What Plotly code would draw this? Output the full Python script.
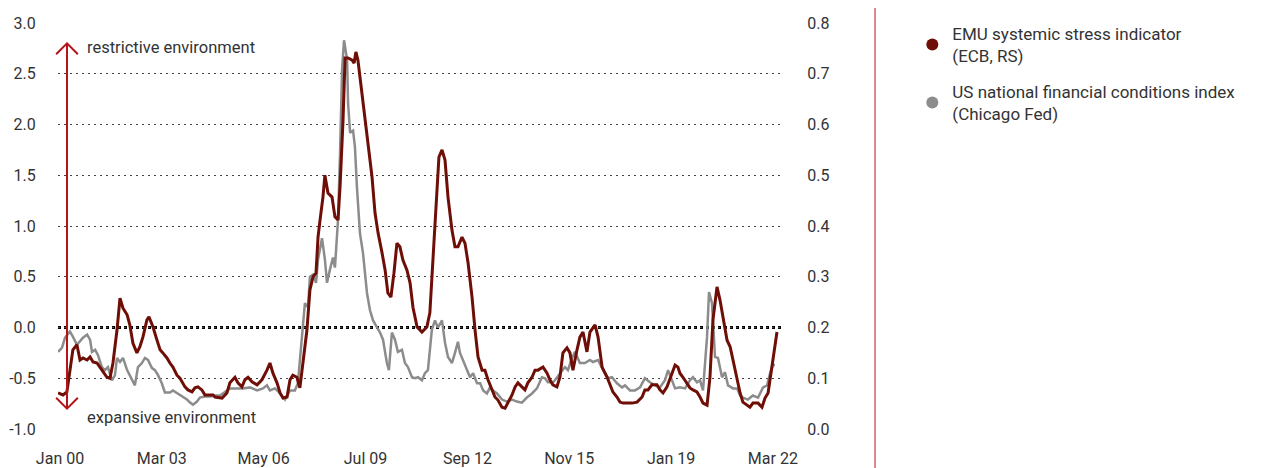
import plotly.graph_objects as go

# ---------------- data ----------------
# US national financial conditions index (Chicago Fed) - left scale
us_dates = [
    "1999-12-09", "2000-01-23", "2000-02-27", "2000-04-23", "2000-05-26", "2000-07-11", "2000-09-18",
    "2000-11-03", "2000-12-07", "2000-12-29", "2001-02-03", "2001-03-06", "2001-04-21", "2001-05-25",
    "2001-06-28", "2001-08-13", "2001-09-16", "2001-10-09", "2001-11-12", "2001-12-16", "2002-02-01",
    "2002-03-04", "2002-04-08", "2002-04-30", "2002-06-04", "2002-07-19", "2002-08-22", "2002-09-26",
    "2002-11-10", "2002-12-14", "2003-01-18", "2003-03-02", "2003-04-06", "2003-06-02", "2003-07-06",
    "2003-09-01", "2003-10-17", "2003-12-13", "2004-01-16", "2004-02-19", "2004-04-04", "2004-05-08",
    "2004-07-04", "2004-08-30", "2004-10-26", "2004-12-22", "2005-04-13", "2005-07-02", "2005-09-09",
    "2005-11-27", "2006-02-16", "2006-04-23", "2006-06-08", "2006-07-12", "2006-09-07", "2006-11-04",
    "2006-12-30", "2007-02-25", "2007-04-21", "2007-05-25", "2007-07-10", "2007-08-13", "2007-09-17",
    "2007-10-09", "2007-11-13", "2007-12-17", "2008-01-09", "2008-02-23", "2008-03-27", "2008-04-20",
    "2008-05-23", "2008-06-27", "2008-07-19", "2008-08-23", "2008-09-15", "2008-10-08", "2008-10-30",
    "2008-12-04", "2008-12-15", "2009-01-07", "2009-02-10", "2009-03-03", "2009-03-26", "2009-04-29",
    "2009-06-03", "2009-07-18", "2009-08-21", "2009-09-25", "2009-11-09", "2009-12-13", "2010-01-16",
    "2010-03-01", "2010-03-24", "2010-04-27", "2010-06-01", "2010-07-04", "2010-08-19", "2010-09-22",
    "2010-10-26", "2010-12-11", "2011-01-14", "2011-02-18", "2011-04-03", "2011-05-07", "2011-06-10",
    "2011-07-25", "2011-08-29", "2011-10-02", "2011-11-17", "2011-12-21", "2012-01-24", "2012-03-09",
    "2012-04-12", "2012-05-16", "2012-06-08", "2012-07-12", "2012-08-27", "2012-09-30", "2012-11-04",
    "2012-12-19", "2013-01-23", "2013-02-26", "2013-04-10", "2013-05-14", "2013-06-18", "2013-08-02",
    "2013-09-28", "2013-11-24", "2014-01-20", "2014-03-16", "2014-05-12", "2014-07-08", "2014-09-04",
    "2014-10-30", "2014-12-26", "2015-01-30", "2015-03-03", "2015-04-29", "2015-05-22", "2015-07-18",
    "2015-09-13", "2015-10-17", "2015-12-02", "2016-01-05", "2016-03-01", "2016-04-27", "2016-06-23",
    "2016-07-27", "2016-09-23", "2016-11-19", "2017-01-15", "2017-02-28", "2017-04-26", "2017-06-22",
    "2017-07-26", "2017-09-21", "2017-11-17", "2018-01-13", "2018-03-09", "2018-05-05", "2018-07-01",
    "2018-08-27", "2018-10-23", "2018-11-27", "2019-01-12", "2019-02-15", "2019-04-11", "2019-06-07",
    "2019-08-03", "2019-09-06", "2019-10-21", "2019-11-25", "2019-12-29", "2020-02-13", "2020-03-06",
    "2020-04-09", "2020-05-13", "2020-06-16", "2020-08-01", "2020-09-04", "2020-10-08", "2020-12-04",
    "2021-01-19", "2021-02-22", "2021-03-26", "2021-05-22", "2021-07-18", "2021-09-14", "2021-11-10",
    "2021-12-25", "2022-01-29", "2022-03-02", "2022-03-25",
]
us_values = [
    -0.24, -0.20, -0.10, -0.04, -0.09, -0.17, -0.10,
    -0.07, -0.12, -0.24, -0.22, -0.27, -0.39, -0.42,
    -0.39, -0.52, -0.47, -0.30, -0.34, -0.30, -0.42,
    -0.47, -0.52, -0.57, -0.39, -0.35, -0.30, -0.32,
    -0.40, -0.42, -0.47, -0.55, -0.64, -0.64, -0.62,
    -0.65, -0.68, -0.71, -0.74, -0.76, -0.73, -0.69,
    -0.68, -0.68, -0.67, -0.67, -0.60, -0.60, -0.60,
    -0.59, -0.62, -0.60, -0.57, -0.62, -0.60, -0.65,
    -0.71, -0.62, -0.62, -0.55, -0.09, 0.24, 0.20,
    0.50, 0.52, 0.44, 0.67, 0.88, 0.67, 0.44,
    0.57, 0.69, 0.59, 1.06, 1.72, 2.54, 2.83,
    2.64, 2.21, 1.92, 1.94, 1.78, 1.38, 0.93,
    0.73, 0.34, 0.17, 0.07, 0.00, -0.05, -0.12,
    -0.35, -0.42, -0.05, -0.12, -0.24, -0.22, -0.35,
    -0.39, -0.49, -0.50, -0.49, -0.52, -0.45, -0.42,
    -0.02, 0.07, 0.00, 0.07, -0.15, -0.29, -0.35,
    -0.25, -0.14, -0.25, -0.32, -0.42, -0.49, -0.45,
    -0.55, -0.55, -0.62, -0.65, -0.59, -0.62, -0.65,
    -0.71, -0.73, -0.71, -0.73, -0.74, -0.69, -0.65,
    -0.60, -0.49, -0.50, -0.54, -0.54, -0.52, -0.45,
    -0.39, -0.42, -0.30, -0.24, -0.35, -0.35, -0.32,
    -0.34, -0.32, -0.42, -0.50, -0.49, -0.55, -0.59,
    -0.57, -0.62, -0.62, -0.59, -0.50, -0.54, -0.57,
    -0.59, -0.52, -0.42, -0.52, -0.60, -0.59, -0.60,
    -0.52, -0.49, -0.54, -0.52, -0.62, -0.09, 0.35,
    0.24, -0.29, -0.30, -0.49, -0.44, -0.57, -0.60,
    -0.60, -0.67, -0.69, -0.71, -0.67, -0.69, -0.59,
    -0.57, -0.45, -0.37, -0.37,
]

# EMU systemic stress indicator (ECB) - right scale
emu_dates = [
    "1999-12-09", "2000-02-04", "2000-03-19", "2000-04-23", "2000-05-26", "2000-07-11", "2000-08-15",
    "2000-09-18", "2000-11-03", "2000-12-07", "2001-01-10", "2001-02-25", "2001-03-29", "2001-05-02",
    "2001-06-17", "2001-07-21", "2001-08-24", "2001-10-09", "2001-11-12", "2001-12-16", "2002-02-01",
    "2002-03-04", "2002-04-08", "2002-05-23", "2002-06-26", "2002-07-30", "2002-09-14", "2002-10-07",
    "2002-11-22", "2003-01-06", "2003-02-10", "2003-03-14", "2003-04-29", "2003-06-02", "2003-07-06",
    "2003-08-21", "2003-09-24", "2003-11-20", "2003-12-24", "2004-02-08", "2004-03-12", "2004-04-15",
    "2004-05-30", "2004-07-04", "2004-08-07", "2004-10-03", "2004-10-26", "2005-01-14", "2005-03-10",
    "2005-04-13", "2005-06-10", "2005-07-13", "2005-08-28", "2005-10-01", "2005-11-05", "2005-12-20",
    "2006-02-16", "2006-04-12", "2006-06-08", "2006-07-12", "2006-08-15", "2006-09-30", "2006-11-04",
    "2006-12-07", "2007-01-22", "2007-02-25", "2007-03-29", "2007-05-14", "2007-06-17", "2007-07-21",
    "2007-09-05", "2007-10-09", "2007-11-13", "2007-12-17", "2008-01-09", "2008-02-01", "2008-03-05",
    "2008-03-27", "2008-05-01", "2008-06-16", "2008-07-19", "2008-08-23", "2008-09-15", "2008-10-19",
    "2008-11-11", "2008-12-15", "2009-01-30", "2009-02-22", "2009-03-14", "2009-04-06", "2009-05-22",
    "2009-06-25", "2009-07-29", "2009-09-13", "2009-10-17", "2009-11-21", "2010-01-05", "2010-02-09",
    "2010-03-12", "2010-04-16", "2010-05-20", "2010-06-23", "2010-07-27", "2010-08-30", "2010-10-15",
    "2010-11-19", "2010-12-22", "2011-02-07", "2011-04-03", "2011-05-29", "2011-07-02", "2011-08-06",
    "2011-09-21", "2011-10-13", "2011-11-17", "2011-12-21", "2012-01-24", "2012-03-09", "2012-04-12",
    "2012-05-16", "2012-07-01", "2012-08-04", "2012-09-08", "2012-10-23", "2012-11-26", "2012-12-30",
    "2013-02-14", "2013-03-18", "2013-04-22", "2013-06-06", "2013-07-10", "2013-08-13", "2013-09-28",
    "2013-11-02", "2013-12-05", "2014-01-20", "2014-02-24", "2014-03-28", "2014-05-12", "2014-06-16",
    "2014-07-19", "2014-09-04", "2014-10-08", "2014-11-11", "2015-01-07", "2015-02-22", "2015-03-26",
    "2015-04-29", "2015-06-14", "2015-07-18", "2015-08-21", "2015-10-06", "2015-11-09", "2015-12-13",
    "2016-01-28", "2016-03-01", "2016-04-05", "2016-05-20", "2016-06-23", "2016-08-20", "2016-09-23",
    "2016-11-08", "2017-01-04", "2017-02-07", "2017-03-11", "2017-04-26", "2017-05-30", "2017-07-03",
    "2017-08-18", "2017-10-14", "2017-12-10", "2018-02-05", "2018-03-09", "2018-04-13", "2018-05-28",
    "2018-07-24", "2018-08-27", "2018-10-01", "2018-11-15", "2019-01-12", "2019-02-15", "2019-03-19",
    "2019-04-11", "2019-05-15", "2019-06-30", "2019-08-03", "2019-09-06", "2019-10-21", "2019-11-25",
    "2019-12-29", "2020-02-13", "2020-03-17", "2020-04-20", "2020-06-05", "2020-07-09", "2020-08-12",
    "2020-09-27", "2020-11-01", "2020-12-04", "2021-01-19", "2021-02-22", "2021-03-26", "2021-05-11",
    "2021-06-14", "2021-07-18", "2021-09-14", "2021-10-29", "2021-12-02", "2022-01-06", "2022-02-21",
    "2022-03-25", "2022-04-17",
]
emu_values = [
    0.071, 0.067, 0.073, 0.112, 0.156, 0.166, 0.136,
    0.140, 0.136, 0.142, 0.132, 0.130, 0.122, 0.112,
    0.102, 0.100, 0.130, 0.195, 0.258, 0.238, 0.225,
    0.205, 0.169, 0.150, 0.162, 0.181, 0.215, 0.221,
    0.201, 0.175, 0.156, 0.150, 0.140, 0.130, 0.122,
    0.106, 0.100, 0.083, 0.077, 0.073, 0.081, 0.083,
    0.077, 0.067, 0.067, 0.067, 0.063, 0.061, 0.071,
    0.091, 0.102, 0.091, 0.083, 0.097, 0.102, 0.093,
    0.087, 0.097, 0.116, 0.130, 0.110, 0.091, 0.071,
    0.061, 0.063, 0.097, 0.106, 0.102, 0.081, 0.130,
    0.195, 0.274, 0.300, 0.307, 0.378, 0.412, 0.457,
    0.500, 0.465, 0.457, 0.418, 0.412, 0.477, 0.609,
    0.731, 0.731, 0.727, 0.721, 0.743, 0.727, 0.662,
    0.609, 0.556, 0.497, 0.426, 0.386, 0.347, 0.313,
    0.268, 0.260, 0.307, 0.366, 0.359, 0.333, 0.313,
    0.288, 0.240, 0.201, 0.191, 0.201, 0.229, 0.327,
    0.457, 0.536, 0.550, 0.530, 0.457, 0.392, 0.359,
    0.359, 0.378, 0.366, 0.327, 0.260, 0.195, 0.142,
    0.116, 0.116, 0.097, 0.077, 0.063, 0.057, 0.043,
    0.041, 0.051, 0.067, 0.083, 0.091, 0.083, 0.077,
    0.091, 0.102, 0.116, 0.116, 0.122, 0.110, 0.097,
    0.087, 0.083, 0.102, 0.150, 0.160, 0.150, 0.116,
    0.156, 0.181, 0.191, 0.152, 0.191, 0.205, 0.181,
    0.122, 0.102, 0.087, 0.073, 0.063, 0.053, 0.051,
    0.051, 0.051, 0.053, 0.063, 0.077, 0.077, 0.087,
    0.087, 0.077, 0.071, 0.083, 0.110, 0.126, 0.122,
    0.110, 0.102, 0.091, 0.081, 0.077, 0.073, 0.063,
    0.051, 0.047, 0.102, 0.215, 0.280, 0.254, 0.221,
    0.175, 0.162, 0.136, 0.102, 0.071, 0.053, 0.047,
    0.043, 0.051, 0.051, 0.043, 0.061, 0.071, 0.122,
    0.162, 0.191,
]

x_tick_dates = ["2000-01-01", "2003-03-01", "2006-05-01", "2009-07-01",
                "2012-09-01", "2015-11-01", "2019-01-01", "2022-03-01"]
x_tick_labels = ["Jan 00", "Mar 03", "May 06", "Jul 09", "Sep 12", "Nov 15", "Jan 19", "Mar 22"]
left_ticks = [-1.0, -0.5, 0.0, 0.5, 1.0, 1.5, 2.0, 2.5, 3.0]
left_labels = ["-1.0", "-0.5", "0.0", "0.5", "1.0", "1.5", "2.0", "2.5", "3.0"]
right_ticks = [0.0, 0.1, 0.2, 0.3, 0.4, 0.5, 0.6, 0.7, 0.8]
right_labels = ["0.0", "0.1", "0.2", "0.3", "0.4", "0.5", "0.6", "0.7", "0.8"]

emu_name = "EMU systemic stress indicator<br>(ECB, RS)"
us_name = "US national financial conditions index<br>(Chicago Fed)"

# ---------------- styling ----------------
RED = "#6e0e06"
GRAY = "#8c8c8c"
ARROW = "#b5141b"
TEXT = "#333333"
FONT = "Roboto"

fig = go.Figure()
fig.add_trace(go.Scatter(x=us_dates, y=us_values, mode="lines", yaxis="y",
                         line=dict(color=GRAY, width=2.5), showlegend=False))
fig.add_trace(go.Scatter(x=emu_dates, y=emu_values, mode="lines", yaxis="y2",
                         line=dict(color=RED, width=3), showlegend=False))
# legend entries (circle markers)
fig.add_trace(go.Scatter(x=[None], y=[None], mode="markers", name=emu_name, legendgroup="emu",
                         marker=dict(color=RED, size=16, symbol="circle")))
fig.add_trace(go.Scatter(x=[None], y=[None], mode="markers", name=us_name, legendgroup="us",
                         marker=dict(color=GRAY, size=16, symbol="circle")))

ax_x = 0.01243
shapes = [
    # bold dotted zero line
    dict(type="line", xref="paper", yref="y", x0=0, x1=1, y0=0, y1=0,
         line=dict(color="#000000", width=3, dash="3px,3px"), layer="below"),
    # double arrow
    dict(type="line", xref="paper", yref="y", x0=ax_x, x1=ax_x, y0=2.80, y1=-0.80,
         line=dict(color=ARROW, width=2)),
    dict(type="path", xref="paper", yref="y",
         path=f"M {ax_x-0.0150},2.692 L {ax_x},2.80 L {ax_x+0.0150},2.692",
         line=dict(color=ARROW, width=2)),
    dict(type="path", xref="paper", yref="y",
         path=f"M {ax_x-0.0150},-0.692 L {ax_x},-0.80 L {ax_x+0.0150},-0.692",
         line=dict(color=ARROW, width=2)),
    # separator line between chart and legend
    dict(type="line", xref="paper", yref="paper", x0=1.1285, x1=1.1285, y0=-0.12, y1=1.08,
         line=dict(color="#c8102e", width=1)),
]

annotations = [
    dict(text="restrictive environment", xref="paper", yref="y", x=0.0373, y=2.76,
         xanchor="left", yanchor="middle", showarrow=False,
         font=dict(size=16.5, color=TEXT, family=FONT)),
    dict(text="expansive environment", xref="paper", yref="y", x=0.0373, y=-0.89,
         xanchor="left", yanchor="middle", showarrow=False,
         font=dict(size=16.5, color=TEXT, family=FONT)),
]

# the page body adds an 8px offset, so the figure is 8px smaller and shifted
fig.update_layout(
    width=1260, height=460,
    margin=dict(l=50, r=486, t=15, b=39, autoexpand=False),
    paper_bgcolor="white", plot_bgcolor="white",
    font=dict(family=FONT, size=16, color=TEXT),
    shapes=shapes, annotations=annotations,
    xaxis=dict(type="date", range=["1999-12-09", "2022-06-13"],
               tickvals=x_tick_dates, ticktext=x_tick_labels,
               showgrid=False, zeroline=False, showline=False, automargin=False,
               ticks="outside", ticklen=15, tickcolor="rgba(0,0,0,0)",
               tickfont=dict(size=16, color=TEXT)),
    yaxis=dict(range=[-1, 3], tickvals=left_ticks, ticktext=left_labels,
               showgrid=True, gridcolor="#444444", gridwidth=1, griddash="1.5px,4.5px",
               zeroline=False, showline=False, automargin=False,
               ticks="outside", ticklen=18, tickcolor="rgba(0,0,0,0)",
               tickfont=dict(size=16, color=TEXT)),
    yaxis2=dict(range=[0, 0.8], tickvals=right_ticks, ticktext=right_labels,
                overlaying="y", side="right", showgrid=False, zeroline=False, showline=False,
                automargin=False,
                ticks="outside", ticklen=21, tickcolor="rgba(0,0,0,0)",
                tickfont=dict(size=16, color=TEXT)),
    legend=dict(x=1.18, y=1.0177, xanchor="left", yanchor="top",
                font=dict(size=17, color=TEXT, family=FONT), traceorder="grouped",
                bgcolor="rgba(0,0,0,0)", tracegroupgap=11, itemsizing="constant"),
    showlegend=True,
)

fig.write_html("out.html")
